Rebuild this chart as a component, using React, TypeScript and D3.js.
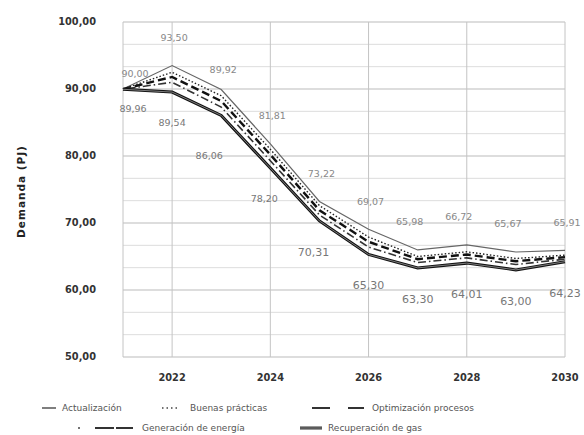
import React from "react";
import * as d3 from "d3";

const years = [2021, 2022, 2023, 2024, 2025, 2026, 2027, 2028, 2029, 2030];
const actualizacion = [90.0, 93.5, 89.92, 81.81, 73.22, 69.07, 65.98, 66.72, 65.67, 65.91];
const buenasPracticas = [90.0, 92.5, 89.0, 81.0, 72.6, 67.9, 65.0, 65.7, 64.7, 65.2];
const optimizacionProcesos = [89.98, 91.8, 88.2, 80.2, 71.9, 67.2, 64.6, 65.3, 64.3, 64.9];
const generacionEnergia = [89.97, 91.0, 87.3, 79.3, 71.2, 66.4, 64.1, 64.8, 63.8, 64.6];
const recuperacionGas = [89.96, 89.54, 86.06, 78.2, 70.31, 65.3, 63.3, 64.01, 63.0, 64.23];

const yTicks = [50, 60, 70, 80, 90, 100];
const xTicks = [2022, 2024, 2026, 2028, 2030];
const yTitle = "Demanda (PJ)";

const seriesNames = [
  "Actualización",
  "Buenas prácticas",
  "Optimización procesos",
  "Generación de energía",
  "Recuperación de gas",
];

const W = 584;
const H = 435;
const FONT = "'DejaVu Sans', 'Liberation Sans', sans-serif";

const fmt = (v: number) => d3.format(".2f")(v).replace(".", ",");

export default function App() {
  const x = d3.scaleLinear().domain([2021, 2030]).range([123, 565]);
  const y = d3.scaleLinear().domain([50, 100]).range([357, 22]);

  const minor = d3.range(0, 16).map((k) => 50 + (k * 10) / 3);
  const vLines = [2021, ...xTicks];

  const line = d3
    .line<number>()
    .x((_, i) => x(years[i]))
    .y((d) => y(d))
    .curve(d3.curveLinear);

  const styles = [
    { stroke: "#666", width: 1.2, dash: "" },
    { stroke: "#222", width: 1.4, dash: "1.5,2" },
    { stroke: "#111", width: 2.4, dash: "8,4" },
    { stroke: "#333", width: 1.6, dash: "1.5,3,8,3" },
    { stroke: "#111", width: 3, dash: "" },
  ];
  const data = [actualizacion, buenasPracticas, optimizacionProcesos, generacionEnergia, recuperacionGas];

  const legendRows = [
    [
      { idx: 0, lx: 42, tx: 62 },
      { idx: 1, lx: 162, tx: 190 },
      { idx: 2, lx: 312, tx: 372 },
    ],
    [
      { idx: 3, lx: 78, tx: 142 },
      { idx: 4, lx: 300, tx: 328 },
    ],
  ];

  const legendSwatch = (idx: number, lx: number, ly: number) => {
    if (idx === 0) return <line x1={lx} x2={lx + 14} y1={ly} y2={ly} stroke="#555" strokeWidth={1.5} />;
    if (idx === 1) return <line x1={lx} x2={lx + 16} y1={ly} y2={ly} stroke="#444" strokeWidth={1.5} strokeDasharray="1.5,3" />;
    if (idx === 2)
      return (
        <g>
          <line x1={lx} x2={lx + 18} y1={ly} y2={ly} stroke="#333" strokeWidth={2} />
          <line x1={lx + 36} x2={lx + 52} y1={ly} y2={ly} stroke="#333" strokeWidth={2} />
        </g>
      );
    if (idx === 3)
      return (
        <g>
          <line x1={lx} x2={lx + 2} y1={ly} y2={ly} stroke="#444" strokeWidth={1.5} />
          <line x1={lx + 17} x2={lx + 36} y1={ly} y2={ly} stroke="#333" strokeWidth={2} />
          <line x1={lx + 38} x2={lx + 55} y1={ly} y2={ly} stroke="#333" strokeWidth={2} />
        </g>
      );
    return (
      <g>
        <line x1={lx} x2={lx + 22} y1={ly} y2={ly} stroke="#333" strokeWidth={3} />
        <line x1={lx} x2={lx + 22} y1={ly} y2={ly} stroke="#999" strokeWidth={0.8} />
      </g>
    );
  };

  return (
    <svg width={W} height={H} style={{ position: "absolute", left: 0, top: 0, background: "#fff" }} fontFamily={FONT}>
      <rect width={W} height={H} fill="#fff" />
      {minor.map((v, i) => (
        <line
          key={"h" + i}
          x1={x(2021)}
          x2={x(2030)}
          y1={y(v)}
          y2={y(v)}
          stroke={i % 3 === 0 ? "#bbb" : "#ddd"}
          strokeWidth={1}
        />
      ))}
      {vLines.map((v) => (
        <line key={"v" + v} x1={x(v)} x2={x(v)} y1={y(100)} y2={y(50)} stroke="#c4c4c4" strokeWidth={1} />
      ))}

      {yTicks.map((v) => (
        <text key={"yt" + v} x={96} y={y(v)} dy="0.35em" textAnchor="end" fontSize={9.8} fontWeight="bold" fill="#333">
          {fmt(v)}
        </text>
      ))}
      {xTicks.map((v) => (
        <text key={"xt" + v} x={x(v)} y={378} dy="0.35em" textAnchor="middle" fontSize={9.8} fontWeight="bold" fill="#333">
          {v}
        </text>
      ))}
      <text
        transform={`translate(21,${y(75) + 2}) rotate(-90)`}
        textAnchor="middle"
        dy="0.35em"
        fontSize={10.5}
        fontWeight="bold"
        fill="#222"
        letterSpacing={1}
      >
        {yTitle}
      </text>

      {data.map((s, i) => (
        <g key={"s" + i}>
          <path
            d={line(s) || ""}
            fill="none"
            stroke={styles[i].stroke}
            strokeWidth={styles[i].width}
            strokeDasharray={styles[i].dash}
          />
          {i === 4 && <path d={line(s) || ""} fill="none" stroke="#999" strokeWidth={0.8} />}
        </g>
      ))}

      {actualizacion.map((v, i) => (
        <text
          key={"ua" + i}
          x={x(years[i]) + (i === 0 ? 12 : i >= 6 && i <= 8 ? -8 : 2)}
          y={y(v) - (i === 0 ? 15 : i === 2 ? 20 : 28)}
          dy="0.35em"
          textAnchor="middle"
          fontSize={9.5}
          fill="#888"
        >
          {fmt(v)}
        </text>
      ))}
      {recuperacionGas.map((v, i) => (
        <text
          key={"lr" + i}
          x={x(years[i]) + (i === 0 ? 10 : i === 2 ? -12 : i === 3 || i === 4 ? -6 : 0)}
          y={y(v) + (i === 0 ? 19 : i === 2 ? 40 : 31)}
          dy="0.35em"
          textAnchor="middle"
          fontSize={i >= 4 ? 11 : 9.5}
          fill="#777"
        >
          {fmt(v)}
        </text>
      ))}

      {legendRows.map((row, r) =>
        row.map((it) => {
          const ly = r === 0 ? 408 : 428;
          return (
            <g key={"lg" + it.idx}>
              {legendSwatch(it.idx, it.lx, ly)}
              <text x={it.tx} y={ly} dy="0.35em" fontSize={9} fill="#555">
                {seriesNames[it.idx]}
              </text>
            </g>
          );
        })
      )}
    </svg>
  );
}
